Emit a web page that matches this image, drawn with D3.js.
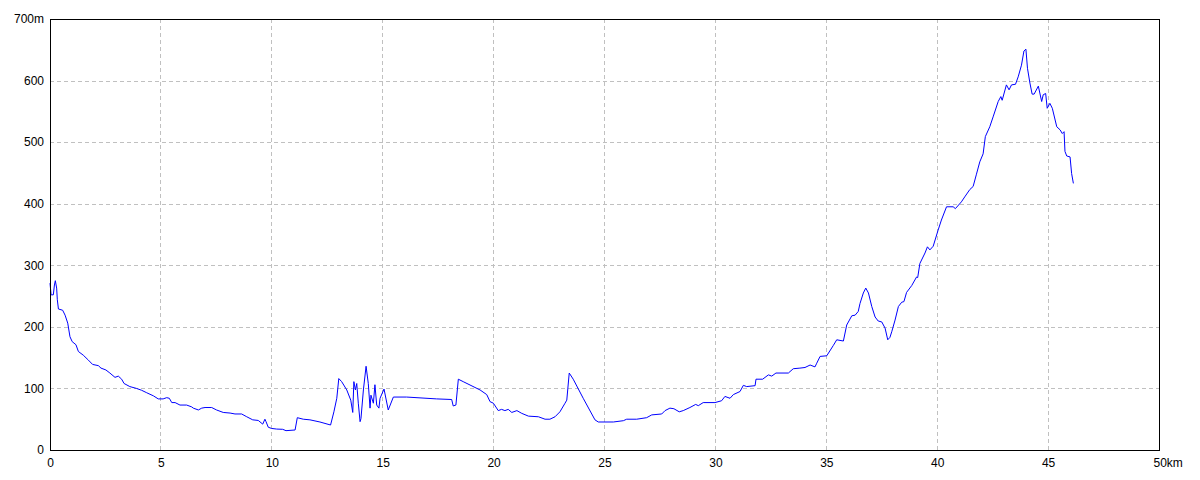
<!DOCTYPE html>
<html><head><meta charset="utf-8">
<script src="https://cdn.jsdelivr.net/npm/d3@7"></script>
<style>
html,body{margin:0;padding:0;background:#fff;}
svg text{font-family:"Liberation Sans Narrow","Liberation Sans",Arial,sans-serif;font-size:12px;fill:#000;}
</style></head>
<body>
<svg id="chart" width="1200" height="480"></svg>
<script>
const distKm = [0,0.05,0.15,0.2,0.24,0.3,0.33,0.38,0.57,0.68,0.8,0.9,1.0,1.17,1.28,1.5,1.73,1.92,2.18,2.3,2.52,2.7,2.93,3.08,3.23,3.34,3.6,3.9,4.13,4.36,4.66,4.88,5.1,5.26,5.38,5.49,5.64,5.86,6.16,6.39,6.46,6.69,6.84,6.99,7.29,7.51,7.81,8.12,8.34,8.64,8.87,9.14,9.39,9.59,9.69,9.74,9.84,9.99,10.22,10.49,10.64,11.05,11.15,11.42,11.72,12.17,12.65,12.8,12.93,13.02,13.15,13.38,13.56,13.65,13.7,13.77,13.83,13.9,13.98,14.02,14.13,14.25,14.35,14.43,14.47,14.58,14.65,14.73,14.83,14.88,15.06,15.25,15.48,16.08,17.43,18.11,18.18,18.3,18.41,18.63,19.39,19.69,19.84,19.99,20.21,20.36,20.51,20.66,20.82,21.05,21.27,21.57,22.02,22.32,22.54,22.77,22.99,23.22,23.3,23.41,23.59,24.04,24.57,24.72,25.4,25.85,26.0,26.45,26.9,27.13,27.58,27.73,27.95,28.13,28.37,28.55,28.85,29.11,29.23,29.45,29.98,30.28,30.43,30.66,30.81,31.11,31.26,31.41,31.79,31.83,32.13,32.39,32.54,32.73,33.29,33.51,33.81,34.04,34.27,34.49,34.57,34.72,35.02,35.32,35.47,35.77,35.92,36.15,36.3,36.44,36.52,36.67,36.78,36.9,37.05,37.2,37.34,37.5,37.65,37.77,37.87,37.95,38.1,38.25,38.4,38.5,38.62,38.85,39.07,39.12,39.22,39.45,39.56,39.67,39.82,40.04,40.19,40.42,40.72,40.82,41.09,41.24,41.47,41.62,41.77,41.92,42.07,42.17,42.37,42.52,42.75,42.87,42.93,43.12,43.24,43.35,43.53,43.65,43.8,43.91,44.0,44.07,44.18,44.28,44.37,44.56,44.71,44.78,44.89,44.96,45.08,45.19,45.39,45.54,45.64,45.72,45.76,45.84,45.99,46.06,46.14];
const elevM = [271,252,252,268,275,263,244,229,227,219,206,184,176,171,160,154,146,139,137,133,130,125,118,120,115,108,103,100,97,93,88,83,83,85,84,77,77,73,73,70,68,65,68,69,69,65,61,60,58.5,58.5,54,49,48,42,50,46,37,35,34,33.6,31.4,32.5,52.5,50,49,45.5,40.6,62,84,116,111,97.5,81,61,111,97.5,108,76,46,51,97.5,136,108,68,89,76,106,73,68,84,99,65,86,86,83,82,71.5,73,115,111,97.5,90,78.5,76,64,66,64,66,61,64,59.5,55,54,50,50,54,62,76,81,125,115,84,49,45.5,45.5,47.6,50,50,52.5,57,58.5,64,68,67,62,64,69,74,72,77,77,80,87,84,90,95,105,103,104.5,115,115,122,120,125,125,132,133,134,138,135,141,152,153,170,179,177,203,218,219,225,238,255,263,255,233,216,209.5,208,198,179,183,192,211,233,240,241,256,267,281,280,303,320,330,325,331,357,373.5,395,395,392,403,411,423,428,448,468,481,509,525,541,566,574,568,593,585,593,594,606,625,648,651,620,596,578,578,591,566,577,579,555,563,555,525,520,514,517,485,477.5,476,449,433];
const xTicks = [0,5,10,15,20,25,30,35,40,45,50];
const yTicks = [0,100,200,300,400,500,600,700];
const xUnit = "km", yUnit = "m";

const svg = d3.select("#chart");
const L = 50, R = 1159, T = 19, B = 450;
const x = d3.scaleLinear().domain([0,50]).range([L,R]);
const y = d3.scaleLinear().domain([0,700]).range([B,T]);

const grid = svg.append("g").attr("shape-rendering","crispEdges")
  .attr("stroke","#c0c0c0").attr("stroke-dasharray","4,3").attr("stroke-width",1);
grid.selectAll(".vg").data(xTicks.filter(d=>d>0&&d<50)).join("line")
  .attr("x1",d=>Math.floor(x(d))+0.5).attr("x2",d=>Math.floor(x(d))+0.5)
  .attr("y1",T).attr("y2",B);
grid.selectAll(".hg").data(yTicks.filter(d=>d>0&&d<700)).join("line")
  .attr("y1",d=>Math.round(y(d))+0.5).attr("y2",d=>Math.round(y(d))+0.5)
  .attr("x1",L).attr("x2",R);

const line = d3.line().x((d,i)=>x(distKm[i])).y(d=>y(d));
svg.append("path").datum(elevM).attr("d",line)
  .attr("fill","none").attr("stroke","#0000ff").attr("stroke-width",1);

svg.append("rect").attr("x",L+0.5).attr("y",T+0.5).attr("width",R-L).attr("height",B-T)
  .attr("fill","none").attr("stroke","#000").attr("stroke-width",1).attr("shape-rendering","crispEdges");

const xa = svg.append("g").attr("transform",`translate(0,${B})`)
  .call(d3.axisBottom(x).tickValues(xTicks).tickSize(0).tickPadding(8)
    .tickFormat(d=>d===50? d+xUnit : d));
xa.select(".domain").remove();
xa.selectAll("text").style("font-size","12px").attr("fill","#000")
  .filter(d=>d===50).attr("text-anchor","start").attr("x",-6);

const ya = svg.append("g").attr("transform",`translate(${L},0)`)
  .call(d3.axisLeft(y).tickValues(yTicks).tickSize(0).tickPadding(6)
    .tickFormat(d=>d===700? d+yUnit : d));
ya.select(".domain").remove();
ya.selectAll("text").style("font-size","12px").attr("fill","#000");
</script>
</body></html>
